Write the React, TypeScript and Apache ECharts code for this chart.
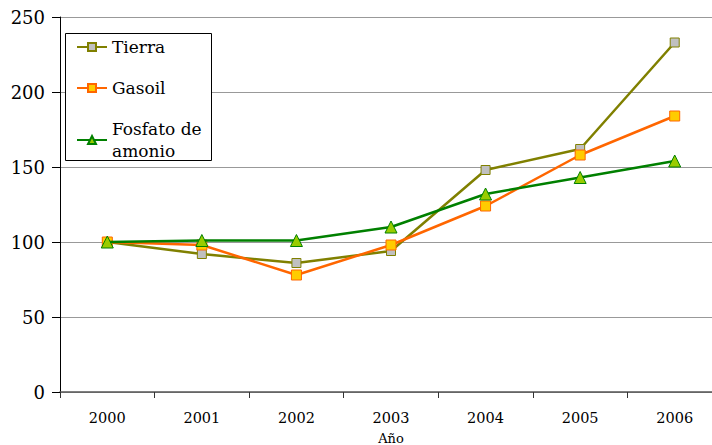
import React, { useEffect, useRef } from "react";
import * as echarts from "echarts";

const years = ["2000", "2001", "2002", "2003", "2004", "2005", "2006"];
const tierra = [100, 92, 86, 94, 148, 162, 233];
const gasoil = [100, 98, 78, 98, 124, 158, 184];
const fosfato = [100, 101, 101, 110, 132, 143, 154];
const seriesNames = ["Tierra", "Gasoil", "Fosfato de\namonio"];

export default function App() {
  const ref = useRef<HTMLDivElement>(null);
  useEffect(() => {
    if (!ref.current) return;
    const chart = echarts.init(ref.current, null, { renderer: "svg" });
    const font = "DejaVu Serif";
    const legendText = { fontFamily: font, fontSize: 17, color: "#000", lineHeight: 22 };
    chart.setOption({
      animation: false,
      backgroundColor: "#ffffff",
      textStyle: { fontFamily: font },
      grid: { left: 60, top: 17, width: 662, height: 375, containLabel: false, outerBoundsMode: "none" },
      graphic: [
        {
          type: "rect",
          shape: { x: 65.5, y: 33.5, width: 146, height: 127 },
          style: { fill: "#ffffff", stroke: "#000000", lineWidth: 1 },
          z: 10,
        },
      ],
      legend: [
        {
          orient: "vertical",
          left: 76,
          top: 36,
          padding: 0,
          z: 20,
          itemWidth: 30,
          itemHeight: 10,
          itemGap: 19,
          textStyle: legendText,
          data: [seriesNames[0], seriesNames[1]],
        },
        {
          orient: "vertical",
          left: 76,
          top: 107,
          padding: 0,
          z: 20,
          itemWidth: 30,
          itemHeight: 10,
          textStyle: legendText,
          data: [{ name: seriesNames[2], textStyle: { ...legendText, padding: [22, 0, 0, 0] } }],
        },
      ],
      xAxis: {
        type: "category",
        data: years,
        boundaryGap: true,
        name: "Año",
        nameLocation: "middle",
        nameGap: 40,
        nameTextStyle: { fontFamily: font, fontSize: 13, color: "#000" },
        axisLine: { lineStyle: { color: "#555", width: 1.5 } },
        axisTick: { show: true, length: 6, alignWithLabel: false, lineStyle: { color: "#333" } },
        axisLabel: { fontFamily: font, fontSize: 14.5, color: "#000", margin: 18 },
        splitLine: { show: false },
      },
      yAxis: {
        type: "value",
        min: 0,
        max: 250,
        interval: 50,
        axisLine: { show: true, lineStyle: { color: "#000", width: 1 } },
        axisTick: { show: true, length: 8, lineStyle: { color: "#000" } },
        axisLabel: { fontFamily: font, fontSize: 18, color: "#000", margin: 15 },
        splitLine: { show: true, lineStyle: { color: "#999", width: 1 } },
      },
      series: [
        {
          name: seriesNames[0],
          type: "line",
          data: tierra,
          symbol: "rect",
          symbolSize: 9,
          lineStyle: { color: "#808000", width: 2.5 },
          itemStyle: { color: "#c0c0c0", borderColor: "#808000", borderWidth: 1 },
          z: 2,
        },
        {
          name: seriesNames[1],
          type: "line",
          data: gasoil,
          symbol: "rect",
          symbolSize: 10,
          lineStyle: { color: "#ff6600", width: 2.5 },
          itemStyle: { color: "#ffcc00", borderColor: "#ff6600", borderWidth: 1 },
          z: 3,
        },
        {
          name: seriesNames[2],
          type: "line",
          data: fosfato,
          symbol: "triangle",
          symbolSize: 12,
          lineStyle: { color: "#008000", width: 2.5 },
          itemStyle: { color: "#99cc00", borderColor: "#008000", borderWidth: 1 },
          z: 4,
        },
      ],
    });
    return () => chart.dispose();
  }, []);
  return (
    <div
      ref={ref}
      style={{ position: "fixed", left: 0, top: 0, width: 712, height: 445 }}
    />
  );
}
